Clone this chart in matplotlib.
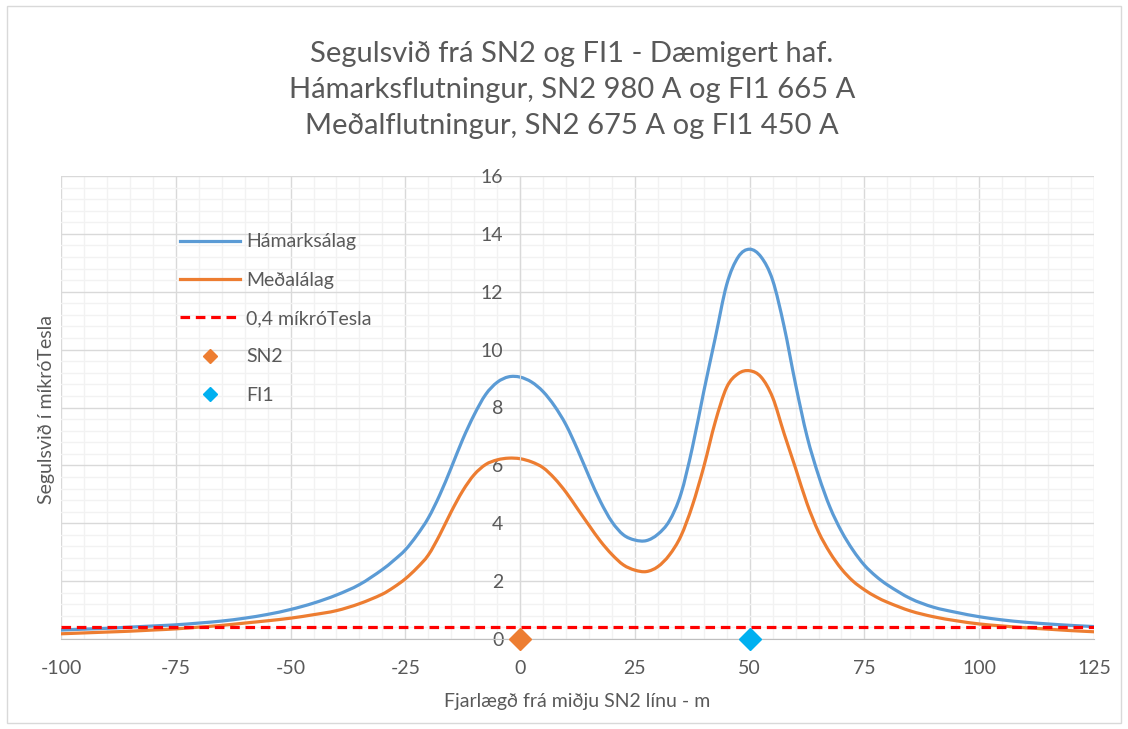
import matplotlib
matplotlib.use("Agg")
import matplotlib.pyplot as plt
from matplotlib.lines import Line2D
from matplotlib.patches import Rectangle, PathPatch
from matplotlib.path import Path
from matplotlib.ticker import MultipleLocator

plt.rcParams['font.family'] = ['Lato', 'DejaVu Sans']
plt.rcParams['axes.unicode_minus'] = False

# fjarlaegd fra midju SN2 (m)
dist = [-100, -95, -90, -85, -80, -75, -70, -65, -60, -55, -50, -45, -40, -35, -30,
        -27.5, -25, -22.5, -20, -17.5, -15, -12.5, -10, -7.5, -5, -2.5, 0,
        2.5, 5, 7.5, 10, 12.5, 15, 17.5, 20, 22.5, 25, 27.5, 30, 32.5, 35, 37.5,
        40, 42.5, 45, 47.5, 50, 52.5, 55, 57.5, 60, 62.5, 65, 67.5, 70, 72.5, 75,
        77.5, 80, 85, 90, 95, 100, 105, 110, 115, 120, 125]

# Hamarksalag (mikroTesla)
hamark = [0.31, 0.34, 0.37, 0.41, 0.45, 0.49, 0.55, 0.62, 0.72, 0.85, 1.02, 1.24, 1.52, 1.88, 2.40,
          2.72, 3.08, 3.58, 4.18, 4.98, 5.92, 6.90, 7.75, 8.45, 8.87, 9.06, 9.05,
          8.88, 8.55, 8.05, 7.40, 6.55, 5.62, 4.75, 4.05, 3.60, 3.42, 3.40, 3.62, 4.08, 5.00, 6.60,
          8.55, 10.40, 12.25, 13.20, 13.47, 13.20, 12.40, 10.80, 8.80, 7.00, 5.65, 4.55, 3.72, 3.07, 2.55,
          2.17, 1.87, 1.40, 1.10, 0.92, 0.77, 0.66, 0.58, 0.52, 0.47, 0.43]

# Medalalag (mikroTesla)
medal = [0.18, 0.21, 0.24, 0.27, 0.31, 0.35, 0.41, 0.47, 0.55, 0.63, 0.72, 0.84, 0.98, 1.22, 1.55,
         1.79, 2.08, 2.45, 2.90, 3.60, 4.40, 5.12, 5.68, 6.03, 6.19, 6.25, 6.23,
         6.12, 5.92, 5.55, 5.07, 4.50, 3.93, 3.38, 2.92, 2.56, 2.38, 2.33, 2.50, 2.90, 3.55, 4.60,
         5.95, 7.50, 8.70, 9.17, 9.27, 9.05, 8.35, 7.10, 5.90, 4.68, 3.70, 2.98, 2.42, 2.00, 1.70,
         1.46, 1.27, 0.97, 0.77, 0.63, 0.52, 0.45, 0.39, 0.34, 0.29, 0.25]

markmid = 0.4
linur_x = [0, 50]
linur_nofn = ['SN2', 'FI1']

c_blue = '#5B9BD5'
c_orange = '#ED7D31'
c_cyan = '#00B0F0'
c_text = '#595959'


def smooth_path(xs, ys):
    # jafnad lina eins og i Excel: kubisk Hermite-bezier gegnum punktana
    n = len(xs)
    m = []
    for i in range(n):
        a = max(i - 1, 0)
        b = min(i + 1, n - 1)
        m.append((ys[b] - ys[a]) / (xs[b] - xs[a]))
    verts = [(xs[0], ys[0])]
    codes = [Path.MOVETO]
    for i in range(n - 1):
        h = xs[i + 1] - xs[i]
        verts += [(xs[i] + h / 3, ys[i] + m[i] * h / 3),
                  (xs[i + 1] - h / 3, ys[i + 1] - m[i + 1] * h / 3),
                  (xs[i + 1], ys[i + 1])]
        codes += [Path.CURVE4] * 3
    return Path(verts, codes)


fig = plt.figure(figsize=(11.28, 7.29), dpi=100)
fig.patches.append(Rectangle((0.006, 0.008), 0.988, 0.984, transform=fig.transFigure,
                             fill=False, edgecolor='#D9D9D9', linewidth=1))
ax = fig.add_axes([61/1128, 1 - 639/729, (1094 - 61)/1128, (639 - 176)/729])

ax.set_xlim(-100, 125)
ax.set_ylim(0, 16)
ax.xaxis.set_major_locator(MultipleLocator(25))
ax.xaxis.set_minor_locator(MultipleLocator(5))
ax.yaxis.set_major_locator(MultipleLocator(2))
ax.yaxis.set_minor_locator(MultipleLocator(0.4))
ax.grid(which='minor', color='#F2F2F2', linewidth=1)
ax.grid(which='major', color='#D9D9D9', linewidth=1)
ax.set_axisbelow(True)

for s in ['top', 'right']:
    ax.spines[s].set_visible(False)
ax.spines['left'].set_position(('data', 0))
ax.spines['left'].set_color('#D9D9D9')
ax.spines['bottom'].set_color('#BFBFBF')

ax.tick_params(which='both', length=0, colors=c_text, labelsize=14)
ax.tick_params(axis='x', pad=15)
ax.tick_params(axis='y', pad=12)

ax.add_patch(PathPatch(smooth_path(dist, hamark), facecolor='none', edgecolor=c_blue,
                       lw=2.3, capstyle='round'))
ax.add_patch(PathPatch(smooth_path(dist, medal), facecolor='none', edgecolor=c_orange,
                       lw=2.3, capstyle='round'))
ax.axhline(markmid, color='#FF0000', lw=2.3, linestyle=(0, (3, 1.8)))
ax.plot([linur_x[0]], [0], marker='D', ms=11, color=c_orange, ls='none', clip_on=False, zorder=5)
ax.plot([linur_x[1]], [0], marker='D', ms=11, color=c_cyan, ls='none', clip_on=False, zorder=5)

handles = [
    Line2D([], [], color=c_blue, lw=2.3),
    Line2D([], [], color=c_orange, lw=2.3),
    Line2D([], [], color='#FF0000', lw=2.3, linestyle=(0, (3, 1.8))),
    Line2D([], [], color=c_orange, marker='D', ms=7, ls='none'),
    Line2D([], [], color=c_cyan, marker='D', ms=7, ls='none'),
]
labels = ['Hámarksálag', 'Meðalálag', '0,4 míkróTesla'] + linur_nofn
leg = ax.legend(handles, labels, loc='upper left', bbox_to_anchor=(0.1075, 0.893), frameon=False,
                fontsize=14, handlelength=3.1, handletextpad=0.3, labelspacing=1.1,
                labelcolor=c_text, borderaxespad=0)

fig.text(572/1128, 1 - 90/729,
         'Segulsvið frá SN2 og FI1 - Dæmigert haf.\n'
         'Hámarksflutningur, SN2 980 A og FI1 665 A\n'
         'Meðalflutningur, SN2 675 A og FI1 450 A',
         ha='center', va='center', fontsize=21, color=c_text, linespacing=1.47)
fig.text(577/1128, 1 - 702/729, 'Fjarlægð frá miðju SN2 línu - m',
         ha='center', va='center', fontsize=14, color=c_text)
fig.text(47/1128, 1 - 410/729, 'Segulsvið í míkróTesla', rotation=90,
         ha='center', va='center', fontsize=14, color=c_text)

fig.savefig('out.png', dpi=100)
